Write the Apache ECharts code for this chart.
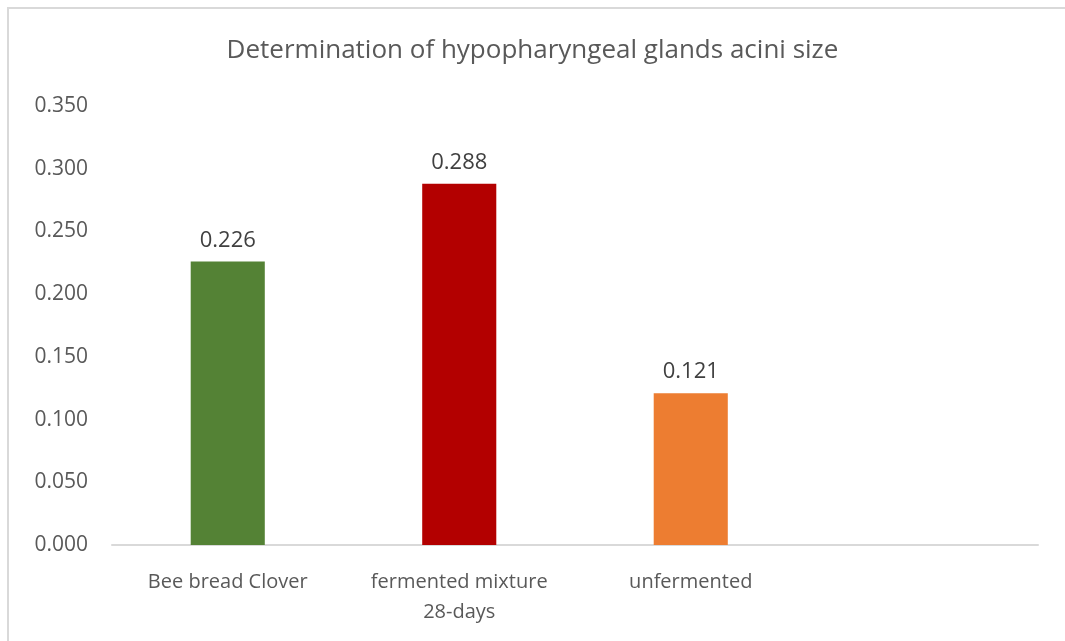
<!DOCTYPE html>
<html>
<head>
<meta charset="utf-8">
<script src="https://cdn.jsdelivr.net/npm/echarts@6/dist/echarts.min.js"></script>
<style>
  html, body { margin: 0; padding: 0; background: #fff; }
  #bar { width: 1065px; height: 641px; }
</style>
</head>
<body>
<div id="bar"></div>
<script>
// data
const categories = ['Bee bread Clover', 'fermented mixture\n28-days', 'unfermented', ''];
const values = [0.226, 0.288, 0.121, null];
const barColors = ['#548235', '#b30000', '#ed7d31', '#ffffff'];
const yTicks = [0, 0.05, 0.1, 0.15, 0.2, 0.25, 0.3, 0.35];

const font = '"Open Sans", Lato, sans-serif';

let myChart = echarts.init(document.getElementById('bar'));

myChart.setOption({
  animation: false,
  title: {
    text: 'Determination of hypopharyngeal glands acini size',
    left: 'center',
    top: 33,
    textStyle: {
      fontFamily: font,
      fontSize: 26,
      fontWeight: 'normal',
      color: '#595959'
    }
  },
  graphic: [{
    // chart area frame (only top & left edges are visible)
    type: 'rect',
    shape: { x: 8, y: 8, width: 1200, height: 800 },
    style: { fill: 'none', stroke: '#d9d9d9', lineWidth: 2 },
    silent: true
  }],
  grid: {
    left: 112,
    right: 27,
    top: 106,
    bottom: 96
  },
  xAxis: {
    type: 'category',
    data: categories,
    axisLine: { lineStyle: { color: '#d9d9d9', width: 2 } },
    axisTick: { show: false },
    axisLabel: {
      fontFamily: font,
      fontSize: 20,
      color: '#595959',
      margin: 22,
      lineHeight: 30
    }
  },
  yAxis: {
    type: 'value',
    min: yTicks[0],
    max: yTicks[yTicks.length - 1],
    interval: 0.05,
    splitLine: { show: false },
    axisLine: { show: false },
    axisTick: { show: false },
    axisLabel: {
      fontFamily: font,
      fontSize: 21,
      color: '#595959',
      margin: 24,
      formatter: v => v.toFixed(3)
    }
  },
  series: [{
    type: 'bar',
    barWidth: '32%',
    data: values.map((v, i) => ({ value: v, itemStyle: { color: barColors[i] } })),
    label: {
      show: true,
      position: 'top',
      distance: 10,
      fontFamily: font,
      fontSize: 22,
      color: '#404040',
      formatter: p => p.value == null ? '' : p.value.toFixed(3)
    }
  }]
});
</script>
</body>
</html>
